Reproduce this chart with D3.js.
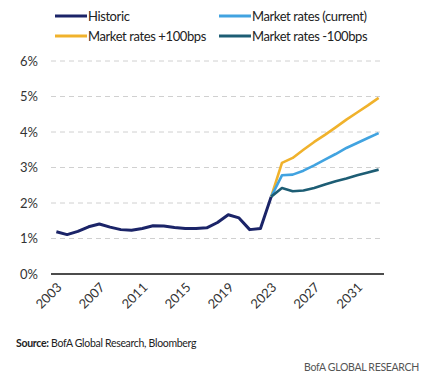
<!DOCTYPE html>
<html>
<head>
<meta charset="utf-8">
<script src="https://cdnjs.cloudflare.com/ajax/libs/d3/7.8.5/d3.min.js"></script>
<style>
    body { margin: 0; background: #fff; }
    svg { font-family: "Lato", "Roboto", sans-serif; }
    .grid line { stroke: #d0d0d0; stroke-dasharray: 5,4; stroke-width: 1; }
    .tick-label { fill: #333; font-size: 13px; }
    .legend text { fill: #222; font-size: 13px; letter-spacing: -0.4px; }
</style>
</head>
<body>
<div id="chart"></div>
<script>
var years = d3.range(2003, 2034);
var yearTicks = [2003, 2007, 2011, 2015, 2019, 2023, 2027, 2031];
var pctTicks = [0, 1, 2, 3, 4, 5, 6];

// historic 2003..2023
var historic = [1.19, 1.11, 1.20, 1.33, 1.41, 1.32, 1.25, 1.23, 1.28, 1.36, 1.35,
    1.31, 1.28, 1.28, 1.30, 1.45, 1.67, 1.58, 1.25, 1.28, 2.18];
// forecasts 2023..2033
var market = [2.18, 2.78, 2.80, 2.91, 3.06, 3.22, 3.38, 3.55, 3.69, 3.83, 3.97];
var plus100 = [2.18, 3.13, 3.27, 3.50, 3.72, 3.92, 4.13, 4.35, 4.55, 4.75, 4.96];
var minus100 = [2.18, 2.42, 2.33, 2.35, 2.42, 2.52, 2.61, 2.69, 2.78, 2.86, 2.94];

var series = [
    {name: "Historic", start: 2003, values: historic, color: "#1b2468", width: 3},
    {name: "Market rates +100bps", start: 2023, values: plus100, color: "#f0b22c", width: 2.6},
    {name: "Market rates (current)", start: 2023, values: market, color: "#41a3e0", width: 2.6},
    {name: "Market rates -100bps", start: 2023, values: minus100, color: "#1d5d74", width: 2.6}
];

var width = 437, height = 386;
var svg = d3.select("#chart").append("svg")
    .attr("width", width).attr("height", height);

var x = d3.scaleBand().domain(years).range([51, 384]).padding(0);
var y = d3.scaleLinear().domain([0, 6]).range([274, 61]);
function xc(yr) { return x(yr) + x.bandwidth() / 2; }

// gridlines
svg.append("g").attr("class", "grid")
    .selectAll("line").data(pctTicks.slice(1))
    .enter().append("line")
    .attr("x1", 51).attr("x2", 384)
    .attr("y1", function(d) { return y(d); })
    .attr("y2", function(d) { return y(d); });

// y labels
svg.append("g").selectAll("text").data(pctTicks)
    .enter().append("text")
    .attr("class", "tick-label")
    .attr("x", 38).attr("y", function(d) { return y(d); })
    .attr("dy", "0.35em")
    .attr("text-anchor", "end")
    .text(function(d) { return d + "%"; });

// zero axis
svg.append("line")
    .attr("x1", 51).attr("x2", 384)
    .attr("y1", y(0)).attr("y2", y(0))
    .attr("stroke", "#111").attr("stroke-width", 1.5);

// x labels, rotated
svg.append("g").selectAll("text").data(yearTicks)
    .enter().append("text")
    .attr("class", "tick-label")
    .attr("font-size", "12.5px")
    .attr("text-anchor", "end")
    .attr("transform", function(d) {
        return "translate(" + (xc(d) + 3) + "," + (y(0) + 11) + ") rotate(-45)";
    })
    .attr("dy", "0.35em")
    .text(function(d) { return d; });

// lines
var line = d3.line()
    .x(function(d) { return xc(d.year); })
    .y(function(d) { return y(d.v); });

svg.append("g").selectAll("path").data(series)
    .enter().append("path")
    .attr("fill", "none")
    .attr("stroke", function(d) { return d.color; })
    .attr("stroke-width", function(d) { return d.width; })
    .attr("stroke-linejoin", "round")
    .attr("d", function(s) {
        return line(s.values.map(function(v, i) { return {year: s.start + i, v: v}; }));
    });

// legend
var legendPos = [
    {s: series[0], x: 55, y: 16},
    {s: series[2], x: 219, y: 16},
    {s: series[1], x: 55, y: 36},
    {s: series[3], x: 219, y: 36}
];
var legend = svg.append("g").attr("class", "legend")
    .selectAll("g").data(legendPos)
    .enter().append("g")
    .attr("transform", function(d) { return "translate(" + d.x + "," + d.y + ")"; });
legend.append("line")
    .attr("x1", 0).attr("x2", 32)
    .attr("stroke", function(d) { return d.s.color; })
    .attr("stroke-width", 3);
legend.append("text")
    .attr("x", 33).attr("dy", "0.35em")
    .text(function(d) { return d.s.name; });

// source
var src = svg.append("text")
    .attr("x", 16).attr("y", 347)
    .attr("font-size", "10.5px").attr("letter-spacing", "-0.3px").attr("fill", "#222");
src.append("tspan").attr("font-weight", "bold").text("Source:");
src.append("tspan").text(" BofA Global Research, Bloomberg");

svg.append("text")
    .attr("x", 419).attr("y", 371)
    .attr("text-anchor", "end")
    .attr("font-size", "10.5px").attr("letter-spacing", "-0.3px").attr("fill", "#555")
    .text("BofA GLOBAL RESEARCH");
</script>
</body>
</html>
